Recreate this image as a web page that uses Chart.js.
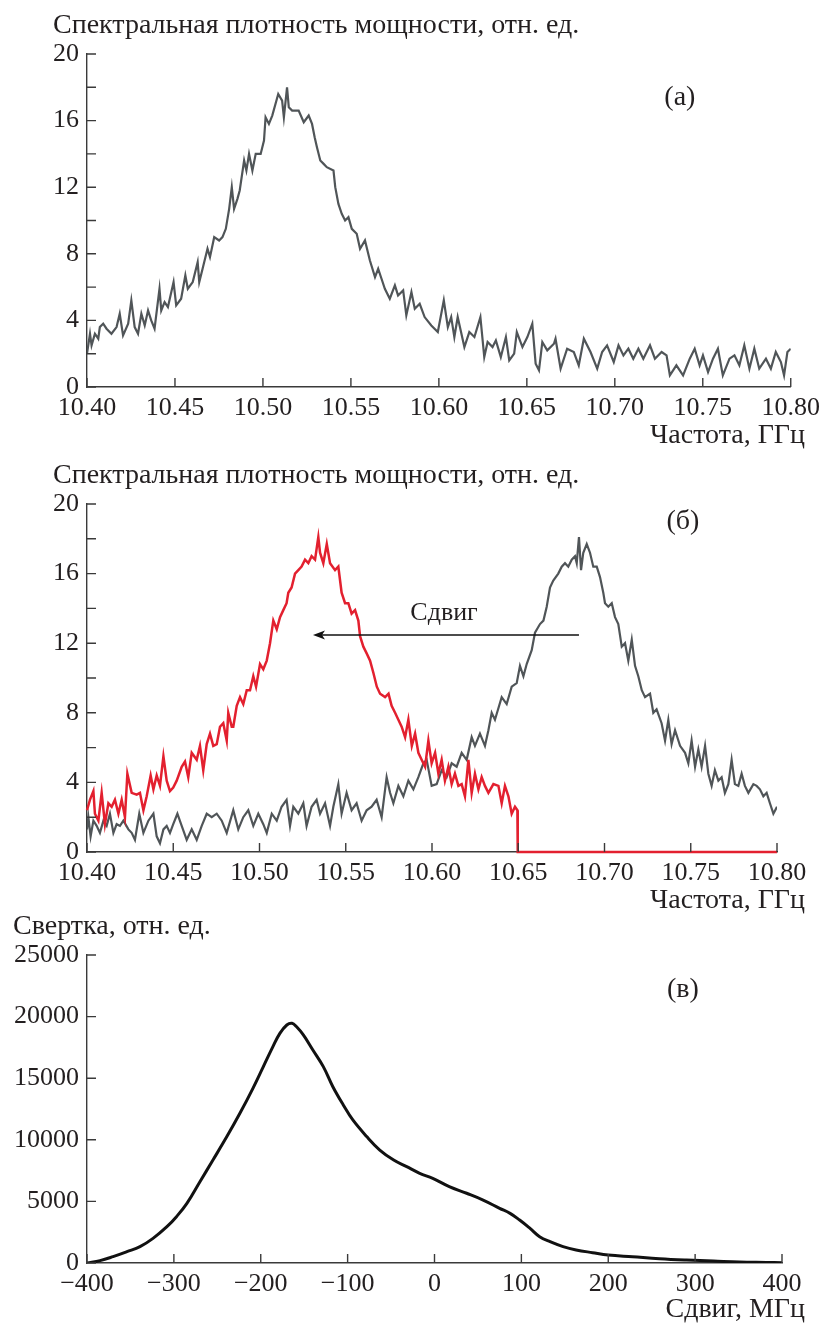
<!DOCTYPE html>
<html>
<head>
<meta charset="utf-8">
<script src="https://cdn.jsdelivr.net/npm/chart.js@4"></script>
<style>
  body { margin: 0; background: #fff; }
  #wrap { position: relative; width: 826px; height: 1323px; }
  canvas { position: absolute; left: 0; }
</style>
</head>
<body>
<div id="wrap">
  <canvas id="chartA" width="826" height="460" style="top:0"></canvas>
  <canvas id="chartB" width="826" height="460" style="top:460px"></canvas>
  <canvas id="chartC" width="826" height="411" style="top:912px"></canvas>
</div>
<script>
// (а) spectrum, GHz / rel. units
const aFreq = [10.4000,10.4017,10.4026,10.4045,10.4064,10.4073,10.4092,10.4111,10.4139,10.4168,10.4186,10.4205,10.4234,10.4252,10.4271,10.4290,10.4309,10.4328,10.4347,10.4365,10.4384,10.4412,10.4422,10.4441,10.4460,10.4492,10.4507,10.4535,10.4559,10.4573,10.4601,10.4629,10.4638,10.4657,10.4685,10.4699,10.4723,10.4751,10.4770,10.4789,10.4808,10.4823,10.4836,10.4855,10.4868,10.4893,10.4906,10.4921,10.4940,10.4959,10.4987,10.5006,10.5015,10.5034,10.5053,10.5087,10.5109,10.5119,10.5137,10.5147,10.5166,10.5203,10.5232,10.5260,10.5279,10.5294,10.5307,10.5326,10.5345,10.5363,10.5401,10.5411,10.5429,10.5448,10.5467,10.5486,10.5505,10.5533,10.5552,10.5580,10.5608,10.5637,10.5655,10.5674,10.5693,10.5721,10.5750,10.5768,10.5797,10.5815,10.5844,10.5863,10.5891,10.5919,10.5957,10.5994,10.6028,10.6051,10.6070,10.6088,10.6107,10.6145,10.6173,10.6202,10.6236,10.6258,10.6277,10.6305,10.6324,10.6352,10.6381,10.6400,10.6428,10.6443,10.6475,10.6503,10.6531,10.6550,10.6569,10.6588,10.6616,10.6654,10.6663,10.6692,10.6729,10.6767,10.6795,10.6824,10.6862,10.6900,10.6928,10.6956,10.6994,10.7021,10.7049,10.7077,10.7105,10.7134,10.7162,10.7200,10.7228,10.7266,10.7294,10.7313,10.7350,10.7388,10.7426,10.7454,10.7482,10.7501,10.7530,10.7558,10.7586,10.7614,10.7652,10.7680,10.7708,10.7736,10.7765,10.7793,10.7821,10.7859,10.7887,10.7915,10.7944,10.7962,10.7981,10.8000];
const aPsd = [2.0,3.2,2.5,3.2,2.9,3.6,3.8,3.5,3.2,3.6,4.4,3.1,3.8,5.2,3.6,3.2,4.4,3.7,4.6,4.0,3.5,5.9,4.6,5.1,4.8,6.3,4.9,5.3,6.7,5.9,6.3,7.5,6.3,7.1,8.3,7.8,9.0,8.8,9.0,9.5,10.7,12.0,10.7,11.3,11.8,13.6,13.0,14.0,13.0,14.0,14.0,14.8,16.2,15.8,16.3,17.6,17.2,16.2,18.0,16.8,16.6,16.6,15.9,16.3,15.8,15.0,14.4,13.6,13.4,13.2,13.0,12.0,11.0,10.4,10.0,10.2,9.5,9.2,8.3,8.8,7.6,6.6,7.1,6.5,5.9,5.3,6.1,5.5,5.8,4.3,5.7,4.7,5.0,4.2,3.7,3.3,5.2,3.6,4.2,3.0,4.2,2.4,3.3,3.0,4.2,1.8,2.7,2.4,2.8,1.8,3.0,1.6,2.0,3.3,2.4,3.0,3.8,1.4,1.0,2.7,2.2,2.6,2.9,1.1,2.3,2.1,1.3,2.9,2.1,1.1,2.1,2.5,1.5,2.5,1.9,2.3,1.7,2.3,1.7,2.5,1.7,2.1,1.9,0.7,1.3,0.7,1.7,2.3,1.3,1.9,0.9,1.7,2.3,0.7,1.7,1.9,1.3,2.5,1.1,2.3,1.1,1.7,1.1,2.1,1.5,0.7,2.1,2.3];

// (б) shifted spectrum (red) and original (grey)
const bRedFreq = [10.4000,10.4017,10.4037,10.4046,10.4066,10.4085,10.4104,10.4124,10.4143,10.4162,10.4182,10.4201,10.4220,10.4234,10.4259,10.4288,10.4307,10.4327,10.4346,10.4369,10.4385,10.4404,10.4423,10.4443,10.4462,10.4481,10.4500,10.4520,10.4549,10.4568,10.4587,10.4607,10.4636,10.4655,10.4674,10.4694,10.4713,10.4732,10.4752,10.4771,10.4790,10.4810,10.4819,10.4839,10.4848,10.4868,10.4887,10.4906,10.4926,10.4945,10.4964,10.4980,10.5003,10.5022,10.5042,10.5061,10.5080,10.5100,10.5119,10.5138,10.5157,10.5167,10.5186,10.5206,10.5225,10.5244,10.5264,10.5283,10.5302,10.5322,10.5341,10.5351,10.5370,10.5390,10.5409,10.5438,10.5457,10.5476,10.5496,10.5515,10.5534,10.5554,10.5573,10.5583,10.5602,10.5622,10.5641,10.5660,10.5680,10.5699,10.5728,10.5748,10.5766,10.5786,10.5805,10.5824,10.5844,10.5863,10.5883,10.5902,10.5921,10.5940,10.5960,10.5979,10.5998,10.6018,10.6037,10.6056,10.6075,10.6095,10.6114,10.6133,10.6153,10.6172,10.6191,10.6211,10.6230,10.6249,10.6269,10.6288,10.6307,10.6327,10.6356,10.6385,10.6404,10.6423,10.6443,10.6462,10.6481,10.6495,10.6497,10.8000];
const bRedPsd = [2.4,3.0,3.5,2.2,1.8,3.4,1.6,2.8,2.6,3.0,2.2,3.0,2.0,4.5,3.4,3.3,3.4,2.4,3.2,4.4,3.6,4.4,3.8,5.5,4.1,3.5,3.7,4.1,4.9,5.2,4.3,5.7,5.3,6.1,4.7,6.2,6.8,6.1,6.2,7.2,7.4,6.4,8.0,7.2,7.2,8.4,8.9,8.5,9.3,9.3,10.1,9.5,10.8,10.5,11.0,12.0,13.3,12.8,13.5,13.9,14.3,14.9,15.2,16.0,16.2,16.4,16.8,16.6,17.0,16.8,18.1,17.2,16.6,17.7,16.6,16.2,16.4,14.9,14.3,14.3,13.7,13.9,13.3,12.4,11.8,11.4,11.0,10.3,9.5,9.1,8.9,9.1,8.4,8.0,7.6,7.2,6.6,7.6,6.1,6.8,5.7,5.3,4.9,6.4,5.1,5.7,4.5,5.3,4.1,4.9,3.9,4.5,3.8,3.9,3.2,5.3,3.4,4.5,3.6,4.3,3.8,3.4,3.9,3.8,2.8,3.8,3.2,2.2,2.6,2.4,0.0,0.0];
const bGrayFreq = [10.4000,10.4008,10.4021,10.4037,10.4056,10.4075,10.4095,10.4114,10.4133,10.4153,10.4172,10.4191,10.4211,10.4240,10.4259,10.4278,10.4303,10.4327,10.4356,10.4385,10.4404,10.4423,10.4443,10.4462,10.4481,10.4500,10.4524,10.4549,10.4578,10.4607,10.4636,10.4665,10.4694,10.4723,10.4752,10.4781,10.4810,10.4848,10.4877,10.4906,10.4935,10.4964,10.4993,10.5022,10.5042,10.5071,10.5100,10.5128,10.5157,10.5177,10.5196,10.5225,10.5254,10.5273,10.5302,10.5331,10.5351,10.5380,10.5409,10.5428,10.5457,10.5476,10.5505,10.5534,10.5563,10.5592,10.5621,10.5650,10.5679,10.5708,10.5737,10.5757,10.5776,10.5805,10.5834,10.5863,10.5892,10.5921,10.5950,10.5969,10.5998,10.6027,10.6056,10.6085,10.6114,10.6143,10.6172,10.6201,10.6230,10.6249,10.6278,10.6307,10.6327,10.6346,10.6365,10.6404,10.6433,10.6462,10.6491,10.6510,10.6530,10.6549,10.6578,10.6597,10.6626,10.6646,10.6665,10.6684,10.6703,10.6732,10.6752,10.6771,10.6790,10.6810,10.6829,10.6839,10.6852,10.6864,10.6877,10.6897,10.6916,10.6935,10.6955,10.6974,10.6993,10.7003,10.7022,10.7042,10.7061,10.7080,10.7100,10.7119,10.7138,10.7158,10.7177,10.7196,10.7216,10.7235,10.7264,10.7283,10.7302,10.7331,10.7351,10.7370,10.7389,10.7409,10.7438,10.7467,10.7486,10.7505,10.7525,10.7544,10.7563,10.7583,10.7602,10.7621,10.7640,10.7660,10.7679,10.7698,10.7718,10.7737,10.7756,10.7776,10.7795,10.7814,10.7834,10.7863,10.7882,10.7901,10.7921,10.7940,10.7959,10.7979,10.8000];
const bGrayPsd = [1.3,2.0,0.9,1.8,1.5,1.1,1.8,1.5,2.2,1.1,1.6,1.5,1.8,1.3,1.1,0.7,2.2,1.1,1.8,2.2,0.9,0.5,1.3,1.5,1.1,1.6,2.2,1.5,0.7,1.3,0.7,1.5,2.2,2.0,2.2,1.8,1.1,2.4,1.3,2.0,2.4,1.5,2.2,1.6,1.1,2.2,1.8,2.6,3.0,1.5,2.6,2.2,2.8,1.5,2.6,3.0,2.2,2.8,1.5,2.6,3.9,2.2,3.4,2.4,2.8,1.8,2.4,2.6,3.0,2.0,4.3,3.4,2.8,3.8,3.2,4.1,3.6,4.3,5.1,5.3,3.8,3.9,4.7,4.3,5.1,4.9,5.7,5.3,6.6,6.1,6.8,6.1,7.0,8.0,7.6,8.9,8.5,9.5,9.7,10.7,10.1,10.8,11.6,12.6,13.1,13.3,14.1,15.2,15.6,16.0,16.4,16.6,16.4,16.8,17.0,16.6,18.1,16.2,17.2,17.7,17.2,16.4,16.4,15.8,14.9,14.3,14.1,14.3,13.5,13.1,11.8,12.0,11.0,12.2,10.7,10.1,9.3,8.9,9.1,8.0,8.2,7.4,6.4,7.6,6.2,7.0,6.1,5.7,5.1,6.4,4.9,5.9,4.9,6.1,4.5,3.8,4.7,4.1,4.3,3.4,3.9,5.3,3.9,3.8,4.5,3.8,3.4,3.9,3.8,3.6,3.2,3.4,2.8,2.2,2.6];

// (в) convolution vs shift, MHz / rel. units
const cShift = [-400,-385,-370,-354,-339,-324,-308,-297,-285,-270,-255,-239,-224,-209,-197,-186,-178,-170,-164,-159,-151,-140,-128,-117,-105,-94,-78,-63,-47,-32,-17,-2,17,37,56,75,87,98,110,121,133,148,163,182,200,228,259,290,321,351,382,400];
const cConv = [0,190,514,920,1326,2000,2950,3760,4840,6600,8360,10260,12150,14180,15940,17560,18640,19320,19460,19190,18510,17290,15940,14310,12830,11610,10260,9170,8360,7820,7280,6870,6200,5660,5110,4440,4030,3490,2810,2140,1730,1330,1060,840,650,510,350,240,160,80,50,30];

// axes
const freqTicks = [10.40, 10.45, 10.50, 10.55, 10.60, 10.65, 10.70, 10.75, 10.80];
const psdTicks = [0, 4, 8, 12, 16, 20];
const psdMarks = [0, 2, 4, 6, 8, 10, 12, 14, 16, 18, 20];
const shiftTicks = [-400, -300, -200, -100, 0, 100, 200, 300, 400];
const convTicks = [0, 5000, 10000, 15000, 20000, 25000];

const FONT_FAMILY = '"Liberation Serif", "DejaVu Serif", serif';
const TICK_SIZE = 26;
const TITLE_SIZE = 28;
const INK = '#231f20';
const AXIS = '#3a3a3a';

const pts = (xs, ys) => xs.map((x, i) => ({ x: x, y: ys[i] }));

// titles, panel letters, inward tick marks and the arrow
const decor = {
  id: 'decor',
  afterDraw(chart, args, o) {
    const { ctx, chartArea: a } = chart;
    const x = chart.scales.x, y = chart.scales.y;
    ctx.save();
    ctx.strokeStyle = AXIS;
    ctx.lineWidth = 1.4;
    ctx.beginPath();
    o.yMarks.forEach(v => {
      const py = y.getPixelForValue(v);
      ctx.moveTo(a.left, py);
      ctx.lineTo(a.left + 9, py);
    });
    o.xMarks.forEach(v => {
      const px = x.getPixelForValue(v);
      ctx.moveTo(px, a.bottom);
      ctx.lineTo(px, a.bottom - 9);
    });
    ctx.stroke();

    ctx.fillStyle = INK;
    ctx.font = TITLE_SIZE + 'px ' + FONT_FAMILY;
    ctx.textBaseline = 'alphabetic';
    ctx.textAlign = 'left';
    ctx.fillText(o.yTitle, o.yTitleX, a.top - 21);
    ctx.textAlign = 'right';
    ctx.fillText(o.xTitle, 805, a.bottom + o.xTitleDy);
    ctx.textAlign = 'center';
    ctx.textBaseline = 'middle';
    ctx.fillText(o.tag, x.getPixelForValue(o.tagAt[0]), y.getPixelForValue(o.tagAt[1]));

    if (o.arrow) {
      const x0 = x.getPixelForValue(o.arrow.from), x1 = x.getPixelForValue(o.arrow.to);
      const py = y.getPixelForValue(o.arrow.y);
      ctx.strokeStyle = '#111';
      ctx.lineWidth = 1.3;
      ctx.beginPath();
      ctx.moveTo(x0, py);
      ctx.lineTo(x1 + 8, py);
      ctx.stroke();
      ctx.fillStyle = '#111';
      ctx.beginPath();
      ctx.moveTo(x1, py);
      ctx.lineTo(x1 + 12, py - 4.5);
      ctx.lineTo(x1 + 9, py);
      ctx.lineTo(x1 + 12, py + 4.5);
      ctx.closePath();
      ctx.fill();
      ctx.fillStyle = INK;
      ctx.font = TICK_SIZE + 'px ' + FONT_FAMILY;
      ctx.fillText(o.arrow.label, x.getPixelForValue(o.arrow.labelAt[0]), y.getPixelForValue(o.arrow.labelAt[1]));
    }
    ctx.restore();
  }
};

function axis(min, max, ticks, fmt, extra) {
  return Object.assign({
    type: 'linear',
    min: min,
    max: max,
    grid: { display: false, drawTicks: false },
    border: { display: true, color: AXIS, width: 1.4 },
    ticks: { color: INK, font: { family: FONT_FAMILY, size: TICK_SIZE }, callback: fmt, maxRotation: 0, autoSkip: false },
    afterBuildTicks: s => { s.ticks = ticks.map(v => ({ value: v })); }
  }, extra);
}

function makeChart(id, datasets, cfg) {
  const xs = axis(cfg.x[0], cfg.x[1], cfg.xTicks, cfg.xFmt, { afterFit: s => { s.height = 30; } });
  xs.ticks.padding = 6;
  const ys = axis(cfg.y[0], cfg.y[1], cfg.yTicks, cfg.yFmt, { afterFit: s => { s.width = 87; } });
  ys.ticks.padding = 8;
  return new Chart(document.getElementById(id), {
    type: 'line',
    data: { datasets: datasets },
    options: {
      responsive: false,
      animation: false,
      layout: { padding: cfg.pad },
      elements: { point: { radius: 0 }, line: { tension: 0 } },
      plugins: { legend: { display: false }, tooltip: { enabled: false }, decor: cfg.decor },
      scales: { x: xs, y: ys }
    },
    plugins: [decor]
  });
}

const fmtFreq = v => v.toFixed(2);
const fmtPlain = v => String(v).replace('-', '\u2212');

makeChart('chartA', [
  { data: pts(aFreq, aPsd), borderColor: '#505558', borderWidth: 2.2 }
], {
  x: [10.4, 10.8], y: [0, 20], xTicks: freqTicks, yTicks: psdTicks, xFmt: fmtFreq, yFmt: fmtPlain,
  pad: { left: 0, right: 31, top: 54, bottom: 43 },
  decor: {
    yMarks: psdMarks, xMarks: freqTicks,
    yTitle: 'Спектральная плотность мощности, отн. ед.', yTitleX: 53,
    xTitle: 'Частота, ГГц', xTitleDy: 56,
    tag: '(а)', tagAt: [10.737, 17.4]
  }
});

makeChart('chartB', [
  { data: pts(bRedFreq, bRedPsd), borderColor: '#e3202f', borderWidth: 2.5, clip: false },
  { data: pts(bGrayFreq, bGrayPsd), borderColor: '#505558', borderWidth: 2.2 }
], {
  x: [10.4, 10.8], y: [0, 20], xTicks: freqTicks, yTicks: psdTicks, xFmt: fmtFreq, yFmt: fmtPlain,
  pad: { left: 0, right: 49, top: 44, bottom: 38 },
  decor: {
    yMarks: psdMarks, xMarks: freqTicks,
    yTitle: 'Спектральная плотность мощности, отн. ед.', yTitleX: 53,
    xTitle: 'Частота, ГГц', xTitleDy: 56,
    tag: '(б)', tagAt: [10.7455, 19.0],
    arrow: { from: 10.6852, to: 10.531, y: 12.47, label: 'Сдвиг', labelAt: [10.607, 13.7] }
  }
});

makeChart('chartC', [
  { data: pts(cShift, cConv), borderColor: '#111111', borderWidth: 3, tension: 0.4 }
], {
  x: [-400, 400], y: [0, 25000], xTicks: shiftTicks, yTicks: convTicks, xFmt: fmtPlain, yFmt: fmtPlain,
  pad: { left: 0, right: 44, top: 43, bottom: 30 },
  decor: {
    yMarks: convTicks, xMarks: shiftTicks,
    yTitle: 'Свертка, отн. ед.', yTitleX: 13,
    xTitle: 'Сдвиг, МГц', xTitleDy: 54,
    tag: '(в)', tagAt: [286, 22160]
  }
});
</script>
</body>
</html>
